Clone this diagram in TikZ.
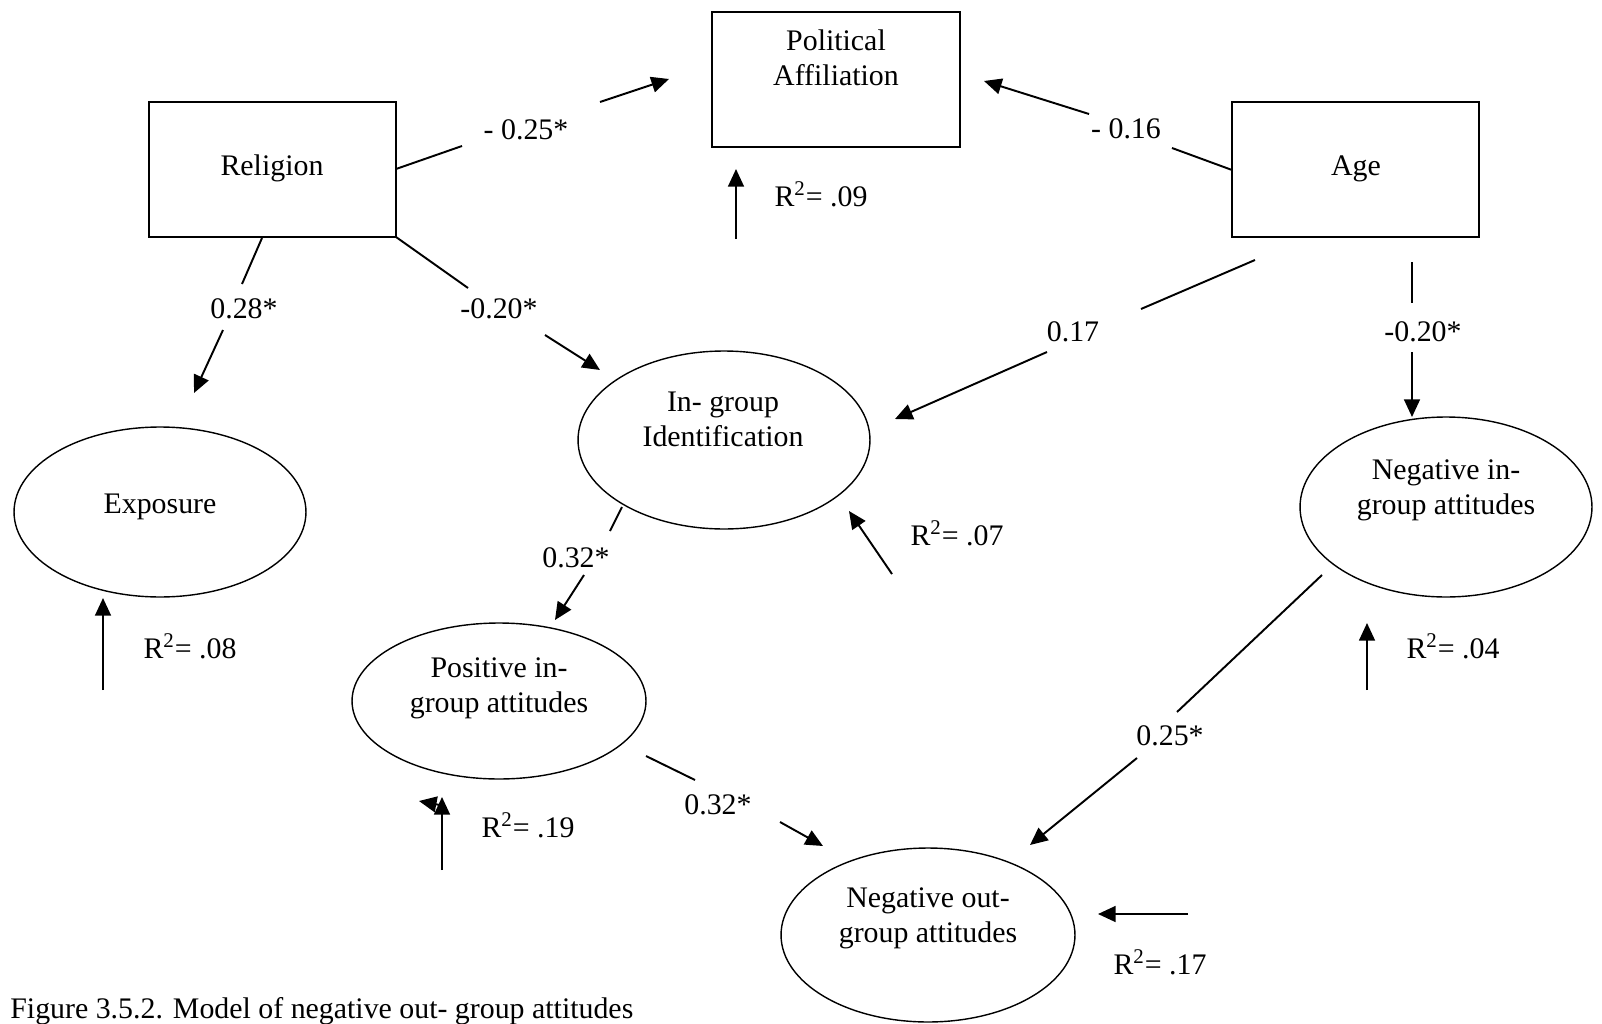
\documentclass[tikz,border=0pt]{standalone}
\usepackage{fontspec}
\setmainfont{Liberation Serif}
\usetikzlibrary{arrows.meta,shapes.geometric}
\begin{document}
\begin{tikzpicture}[x=0.02cm,y=-0.02cm,
  txt/.style={font=\fontsize{17pt}{20pt}\selectfont, inner sep=0pt, align=center},
  box/.style={draw, line width=0.8pt, rectangle, inner sep=0pt},
  ell/.style={draw, line width=0.8pt, ellipse, inner sep=0pt},
  arr/.style={line width=1.1pt, -{Triangle[length=10pt,width=9pt]}},
  seg/.style={line width=1.1pt}]
\useasboundingbox (0,0) rectangle (1602,1024);
% boxes
\node[box, minimum width=4.96cm, minimum height=2.7cm] (pol) at (836,79.5) {};
\node[box, minimum width=4.94cm, minimum height=2.7cm] (rel) at (272.5,169.5) {};
\node[box, minimum width=4.94cm, minimum height=2.7cm] (age) at (1355.5,169.5) {};
\node[txt] (polt) at (836,57.5) {Political\\Affiliation};
\node[txt] (relt) at (272,168.5) {Religion};
\node[txt] (aget) at (1356,168.5) {Age};
% ellipses
\node[ell, minimum width=5.84cm, minimum height=3.40cm] (exp) at (160,512) {};
\node[ell, minimum width=5.84cm, minimum height=3.56cm] (ing) at (724,440) {};
\node[ell, minimum width=5.84cm, minimum height=3.60cm] (negin) at (1446,507) {};
\node[ell, minimum width=5.88cm, minimum height=3.12cm] (posin) at (499,701) {};
\node[ell, minimum width=5.88cm, minimum height=3.48cm] (negout) at (928,935) {};
\node[txt] (expt) at (160,507) {Exposure};
\node[txt] (ingt) at (723,419.5) {In- group\\Identification};
\node[txt] (negint) at (1446,490) {Negative in-\\group attitudes};
\node[txt] (posint) at (499,688) {Positive in-\\group attitudes};
\node[txt] (negoutt) at (928,918) {Negative out-\\group attitudes};
% labels
\node[txt] (l1) at (526,130) {- 0.25*};
\node[txt] (l2) at (1126,129) {- 0.16};
\node[txt] (r09) at (821,194) {R\textsuperscript{2}= .09};
\node[txt] (l3) at (244,309) {0.28*};
\node[txt] (l4) at (499,309) {-0.20*};
\node[txt] (l5) at (1073,332) {0.17};
\node[txt] (l6) at (1423,332) {-0.20*};
\node[txt] (r07) at (957,533) {R\textsuperscript{2}= .07};
\node[txt] (l7) at (576,558) {0.32*};
\node[txt] (r08) at (190,646) {R\textsuperscript{2}= .08};
\node[txt] (r04) at (1453,646) {R\textsuperscript{2}= .04};
\node[txt] (l8) at (1170,736) {0.25*};
\node[txt] (l9) at (718,805) {0.32*};
\node[txt] (r19) at (528,825) {R\textsuperscript{2}= .19};
\node[txt] (r17) at (1160,962) {R\textsuperscript{2}= .17};
\node[txt, anchor=west] (cap) at (10,1011) {Figure 3.5.2. Model of negative out- group attitudes};
% connector coordinates
\coordinate (a1) at (396,169); \coordinate (a2) at (462,146);
\coordinate (a3) at (600,102); \coordinate (a4) at (669,79);
\coordinate (b1) at (1232,170); \coordinate (b2) at (1172,148);
\coordinate (b3) at (1089,114); \coordinate (b4) at (984,81);
\coordinate (c1) at (736,239); \coordinate (c2) at (736,169);
\coordinate (d1) at (262,238); \coordinate (d2) at (242,284);
\coordinate (d3) at (223,330); \coordinate (d4) at (194,393);
\coordinate (e1) at (396,237); \coordinate (e2) at (468,288);
\coordinate (e3) at (545,335); \coordinate (e4) at (600,370);
\coordinate (f1) at (1255,260); \coordinate (f2) at (1141,309);
\coordinate (f3) at (1047,352); \coordinate (f4) at (895,419);
\coordinate (g1) at (1412,262); \coordinate (g2) at (1412,303);
\coordinate (g3) at (1412,352); \coordinate (g4) at (1412,417);
\coordinate (h1) at (892,574); \coordinate (h2) at (849,511);
\coordinate (i1) at (622,507); \coordinate (i2) at (610,531);
\coordinate (i3) at (584,575); \coordinate (i4) at (555,620);
\coordinate (j1) at (103,690); \coordinate (j2) at (103,598);
\coordinate (k1) at (1367,690); \coordinate (k2) at (1367,623);
\coordinate (m1) at (1322,575); \coordinate (m2) at (1177,712);
\coordinate (m3) at (1137,758); \coordinate (m4) at (1030,845);
\coordinate (n1) at (646,756); \coordinate (n2) at (695,780);
\coordinate (n3) at (780,822); \coordinate (n4) at (823,846);
\coordinate (p1) at (442,870); \coordinate (p2) at (442,797);
\coordinate (p3) at (445,806); \coordinate (p4) at (419,801);
\coordinate (q1) at (1188,914); \coordinate (q2) at (1098,914);
% connectors
\draw[seg] (a1) -- (a2); \draw[arr] (a3) -- (a4);
\draw[seg] (b1) -- (b2); \draw[arr] (b3) -- (b4);
\draw[arr] (c1) -- (c2);
\draw[seg] (d1) -- (d2); \draw[arr] (d3) -- (d4);
\draw[seg] (e1) -- (e2); \draw[arr] (e3) -- (e4);
\draw[seg] (f1) -- (f2); \draw[arr] (f3) -- (f4);
\draw[seg] (g1) -- (g2); \draw[arr] (g3) -- (g4);
\draw[arr] (h1) -- (h2);
\draw[seg] (i1) -- (i2); \draw[arr] (i3) -- (i4);
\draw[arr] (j1) -- (j2);
\draw[arr] (k1) -- (k2);
\draw[seg] (m1) -- (m2); \draw[arr] (m3) -- (m4);
\draw[seg] (n1) -- (n2); \draw[arr] (n3) -- (n4);
\draw[arr] (p1) -- (p2);
\draw[arr] (p3) -- (p4);
\draw[arr] (q1) -- (q2);
\end{tikzpicture}
\end{document}
